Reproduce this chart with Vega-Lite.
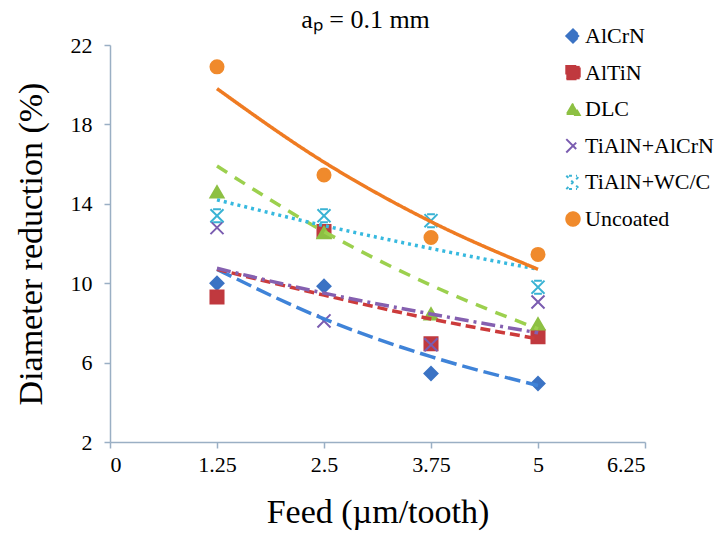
{
  "$schema": "https://vega.github.io/schema/vega-lite/v6.json",
  "width": 535,
  "height": 397,
  "autosize": "none",
  "padding": {"left": 110, "top": 45, "right": 70, "bottom": 93},
  "background": "white",
  "title": {
    "text": "aₚ = 0.1 mm",
    "font": "Liberation Serif",
    "fontSize": 26,
    "fontWeight": "normal",
    "color": "black",
    "anchor": "middle",
    "dx": -12,
    "offset": -8
  },
  "config": {
    "view": {"stroke": null},
    "axis": {
      "grid": false,
      "domainColor": "#9aafc4",
      "domainWidth": 1.5,
      "tickColor": "#9aafc4",
      "tickWidth": 1.5,
      "tickSize": 6,
      "labelFont": "Liberation Serif",
      "labelFontSize": 22,
      "labelColor": "black",
      "titleFont": "Liberation Serif",
      "titleFontSize": 34,
      "titleFontWeight": "normal",
      "titleColor": "black"
    },
    "legend": {
      "labelFont": "Liberation Serif",
      "labelFontSize": 22,
      "labelColor": "black",
      "symbolSize": 180,
      "symbolStrokeWidth": 2,
      "rowPadding": 14.6,
      "padding": 0,
      "labelOffset": 1
    }
  },
  "datasets": {
    "pts": [
      {"series": "AlCrN", "feed": 1.25, "dr": 10.0},
      {"series": "AlCrN", "feed": 2.5, "dr": 9.85},
      {"series": "AlCrN", "feed": 3.75, "dr": 5.45},
      {"series": "AlCrN", "feed": 5, "dr": 4.95},
      {"series": "AlTiN", "feed": 1.25, "dr": 9.3},
      {"series": "AlTiN", "feed": 2.5, "dr": 12.6},
      {"series": "AlTiN", "feed": 3.75, "dr": 6.95},
      {"series": "AlTiN", "feed": 5, "dr": 7.3},
      {"series": "DLC", "feed": 1.25, "dr": 14.6},
      {"series": "DLC", "feed": 2.5, "dr": 12.55},
      {"series": "DLC", "feed": 3.75, "dr": 8.45},
      {"series": "DLC", "feed": 5, "dr": 7.95},
      {"series": "TiAlN+AlCrN", "feed": 1.25, "dr": 12.8},
      {"series": "TiAlN+AlCrN", "feed": 2.5, "dr": 8.1},
      {"series": "TiAlN+AlCrN", "feed": 3.75, "dr": 6.9},
      {"series": "TiAlN+AlCrN", "feed": 5, "dr": 9.05},
      {"series": "TiAlN+WC/C", "feed": 1.25, "dr": 13.4},
      {"series": "TiAlN+WC/C", "feed": 2.5, "dr": 13.4},
      {"series": "TiAlN+WC/C", "feed": 3.75, "dr": 13.15},
      {"series": "TiAlN+WC/C", "feed": 5, "dr": 9.8},
      {"series": "Uncoated", "feed": 1.25, "dr": 20.9},
      {"series": "Uncoated", "feed": 2.5, "dr": 15.45},
      {"series": "Uncoated", "feed": 3.75, "dr": 12.3},
      {"series": "Uncoated", "feed": 5, "dr": 11.45}
    ],
    "trend": [
      {"series": "AlCrN", "feed": 1.25, "dr": 10.7},
      {"series": "AlCrN", "feed": 2.5, "dr": 8.2},
      {"series": "AlCrN", "feed": 3.75, "dr": 6.3},
      {"series": "AlCrN", "feed": 5, "dr": 4.85},
      {"series": "AlTiN", "feed": 1.25, "dr": 10.7},
      {"series": "AlTiN", "feed": 2.5, "dr": 9.4},
      {"series": "AlTiN", "feed": 3.75, "dr": 8.2},
      {"series": "AlTiN", "feed": 5, "dr": 7.2},
      {"series": "DLC", "feed": 1.25, "dr": 15.9},
      {"series": "DLC", "feed": 2.5, "dr": 12.6},
      {"series": "DLC", "feed": 3.75, "dr": 9.9},
      {"series": "DLC", "feed": 5, "dr": 7.7},
      {"series": "TiAlN+AlCrN", "feed": 1.25, "dr": 10.75},
      {"series": "TiAlN+AlCrN", "feed": 2.5, "dr": 9.5},
      {"series": "TiAlN+AlCrN", "feed": 3.75, "dr": 8.45},
      {"series": "TiAlN+AlCrN", "feed": 5, "dr": 7.5},
      {"series": "TiAlN+WC/C", "feed": 1.25, "dr": 14.2},
      {"series": "TiAlN+WC/C", "feed": 2.5, "dr": 12.9},
      {"series": "TiAlN+WC/C", "feed": 3.75, "dr": 11.75},
      {"series": "TiAlN+WC/C", "feed": 5, "dr": 10.7},
      {"series": "Uncoated", "feed": 1.25, "dr": 19.8},
      {"series": "Uncoated", "feed": 2.5, "dr": 16.1},
      {"series": "Uncoated", "feed": 3.75, "dr": 13.1},
      {"series": "Uncoated", "feed": 5, "dr": 10.7}
    ]
  },
  "encoding": {
    "x": {
      "field": "feed",
      "type": "quantitative",
      "title": "Feed (µm/tooth)",
      "scale": {"domain": [0, 6.25], "nice": false, "zero": false},
      "axis": {"values": [0, 1.25, 2.5, 3.75, 5, 6.25], "labelExpr": "format(datum.value, '.2~f')", "labelFont": "Liberation Serif", "labelPadding": 6, "titlePadding": 20}
    },
    "y": {
      "field": "dr",
      "type": "quantitative",
      "title": "Diameter reduction (%)",
      "scale": {"domain": [2, 22], "nice": false, "zero": false},
      "axis": {"values": [2, 6, 10, 14, 18, 22], "labelFont": "Liberation Serif", "labelPadding": 12, "titlePadding": 22}
    }
  },
  "layer": [
    {
      "data": {"name": "pts"},
      "mark": {"type": "point", "filled": true, "size": 170, "strokeWidth": 2, "opacity": 1},
      "encoding": {
        "fill": {
          "field": "series",
          "type": "nominal",
          "title": null,
          "scale": {
            "domain": ["AlCrN", "AlTiN", "DLC", "TiAlN+AlCrN", "TiAlN+WC/C", "Uncoated"],
            "range": ["#3b73c4", "#c0393e", "#8dc043", "#7a5cb0", "#3ab3d4", "#f08a2c"]
          },
          "legend": {"orient": "none", "legendX": 452, "legendY": -20, "title": null, "labelFont": "Liberation Serif"}
        },
        "stroke": {
          "field": "series",
          "type": "nominal",
          "title": null,
          "scale": {
            "domain": ["AlCrN", "AlTiN", "DLC", "TiAlN+AlCrN", "TiAlN+WC/C", "Uncoated"],
            "range": ["#3b73c4", "#c0393e", "#8dc043", "#7a5cb0", "#3ab3d4", "#f08a2c"]
          },
          "legend": {"orient": "none", "legendX": 452, "legendY": -20, "title": null, "labelFont": "Liberation Serif"}
        },
        "shape": {
          "field": "series",
          "type": "nominal",
          "title": null,
          "scale": {
            "domain": ["AlCrN", "AlTiN", "DLC", "TiAlN+AlCrN", "TiAlN+WC/C", "Uncoated"],
            "range": ["diamond", "square", "triangle-up", "M-1,-1L1,1M-1,1L1,-1", "M-1,-1L1,1M-1,1L1,-1M-0.6,-1L0.6,-1M-0.6,1L0.6,1", "circle"]
          },
          "legend": {"orient": "none", "legendX": 452, "legendY": -20, "title": null, "labelFont": "Liberation Serif"}
        }
      }
    },
    {
      "data": {"name": "trend"},
      "mark": {"type": "line", "strokeWidth": 3.5, "interpolate": "monotone"},
      "encoding": {
        "color": {
          "field": "series",
          "type": "nominal",
          "scale": {
            "domain": ["AlCrN", "AlTiN", "DLC", "TiAlN+AlCrN", "TiAlN+WC/C", "Uncoated"],
            "range": ["#3f83d8", "#cc3b3b", "#9cd04e", "#8560b0", "#37b9df", "#ef7b22"]
          },
          "legend": null
        },
        "strokeDash": {
          "field": "series",
          "type": "nominal",
          "scale": {
            "domain": ["AlCrN", "AlTiN", "DLC", "TiAlN+AlCrN", "TiAlN+WC/C", "Uncoated"],
            "range": [[16, 6], [10, 5], [12, 9], [14, 5, 3, 5], [3, 4], [1, 0]]
          },
          "legend": null
        }
      }
    }
  ]
}
